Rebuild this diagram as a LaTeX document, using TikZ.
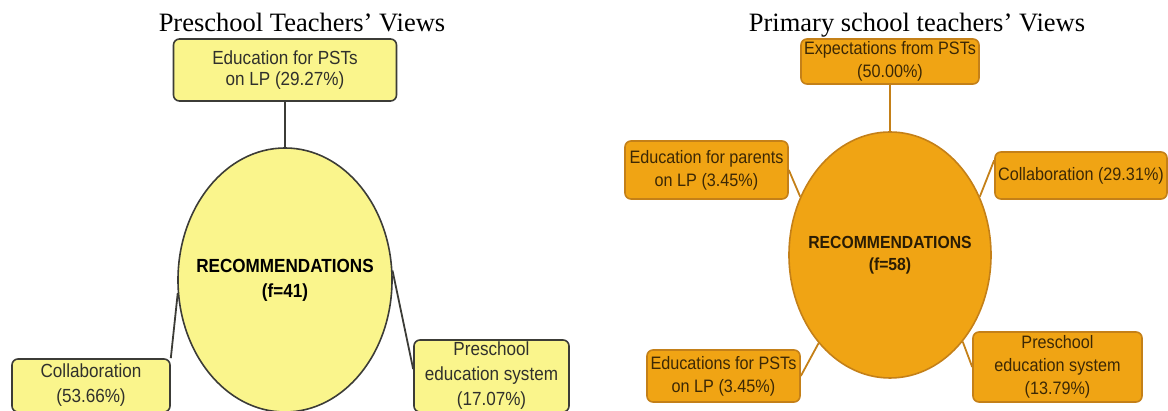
\documentclass[tikz,border=0pt]{standalone}
\usepackage{fontspec}
\setmainfont{Liberation Serif}
\newfontfamily\boxfont[FakeStretch=0.9]{Liberation Sans}
\usetikzlibrary{shapes.geometric}
\definecolor{lemon}{RGB}{250,245,140}
\definecolor{slate}{RGB}{60,60,55}
\definecolor{amber}{RGB}{240,164,20}
\definecolor{rust}{RGB}{196,128,24}
\definecolor{umber}{RGB}{60,40,5}
\tikzset{block/.style={draw,line width=1.6pt,rounded corners=6pt,inner sep=0pt,align=center,
           font=\boxfont\fontsize{19}{21.5}\selectfont},
         yblock/.style={block,fill=lemon,draw=slate,text=slate!80!black},
         oblock/.style={block,fill=amber,draw=rust,text=umber,font=\boxfont\fontsize{18}{23}\selectfont},
         hub/.style={ellipse,line width=1.6pt,inner sep=0pt},
         title/.style={anchor=base,font=\fontsize{26.5}{30}\selectfont},
         line/.style={line width=1.8pt}
}

\begin{document}
\begin{tikzpicture}[x=1pt,y=1pt]
  \useasboundingbox (0,0) rectangle (1168,411);
  % preschool side
  \node[title] (tL) at (302,379) {Preschool Teachers’ Views};
  \node[hub, draw=slate, fill=lemon, minimum width=214pt, minimum height=264pt,
        label={[align=center,font=\boxfont\bfseries\fontsize{19}{25}\selectfont]center:RECOMMENDATIONS\\(f=41)}] (hubL) at (285,131) {};
  \node[yblock, minimum width=223pt, minimum height=62pt] (eduL) at (285,341) {Education for PSTs\\on LP (29.27\%)};
  \node[yblock, minimum width=158pt, minimum height=53pt, font=\boxfont\fontsize{19}{25}\selectfont] (colL) at (91,25.5) {Collaboration\\(53.66\%)};
  \node[yblock, minimum width=155pt, minimum height=72pt, font=\boxfont\fontsize{19}{25}\selectfont] (preL) at (491.5,35) {Preschool\\education system\\(17.07\%)};

  \draw[line, slate] (eduL.south) -- (hubL.north);
  \draw[line, slate] (colL.north east) -- (hubL.187);
  \draw[line, slate] (hubL.5) -- (preL.175);

  % primary school side
  \node[title] (tR) at (917,379) {Primary school teachers’ Views};
  \node[hub, draw=rust, fill=amber, minimum width=202pt, minimum height=246pt,
        label={[align=center,text=umber!70!black,font=\boxfont\bfseries\fontsize{17.5}{22}\selectfont]center:RECOMMENDATIONS\\(f=58)}] (hubR) at (890,156) {};
  \node[oblock, minimum width=178pt, minimum height=45pt] (expR) at (890,349.5) {Expectations from PSTs\\(50.00\%)};
  \node[oblock, minimum width=163pt, minimum height=58pt] (parR) at (706.5,241) {Education for parents\\on LP (3.45\%)};
  \node[oblock, minimum width=172pt, minimum height=47pt] (colR) at (1081,235.5) {Collaboration (29.31\%)};
  \node[oblock, minimum width=153pt, minimum height=52pt] (pstR) at (723.5,35) {Educations for PSTs\\on LP (3.45\%)};
  \node[oblock, minimum width=169pt, minimum height=70pt] (preR) at (1057.5,44) {Preschool\\education system\\(13.79\%)};

  \draw[line, rust] (expR.south) -- (hubR.north);
  \draw[line, rust] (parR.east) -- (hubR.147.5);
  \draw[line, rust] (colR.170) -- (hubR.33.7);
  \draw[line, rust] (pstR.east) -- (hubR.231);
  \draw[line, rust] (hubR.310) -- (preR.west);
\end{tikzpicture}
\end{document}
